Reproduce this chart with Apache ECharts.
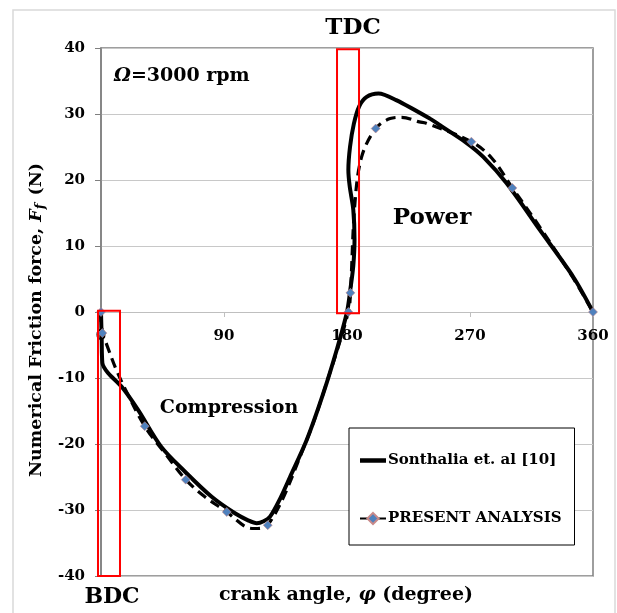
<!DOCTYPE html>
<html>
<head>
<meta charset="utf-8">
<script src="https://cdn.jsdelivr.net/npm/echarts@6/dist/echarts.min.js"></script>
<style>
html,body{margin:0;padding:0;background:#fff;}
#c{width:617px;height:613px;}
</style>
</head>
<body>
<div id="c"></div>
<script>
// ---- data ----
var xTicks = [0, 90, 180, 270, 360];
var yTicks = [-40, -30, -20, -10, 0, 10, 20, 30, 40];

// Sonthalia et. al [10] (solid curve)
var sonthaliaX = [0, 0.5, 1, 5, 15, 27, 44, 61.5, 81, 98, 108, 114, 119, 123.7, 131, 138.3, 150.5, 162.7, 172.4, 180, 182.5, 184.6, 185.5, 184.6, 182, 181, 182.2, 185, 189, 194.4, 203, 216, 240.7, 248, 267.6, 279.7, 296.8, 321.2, 345.6, 360];
var sonthaliaY = [0, -4, -7.7, -9.2, -11.3, -14.8, -20.4, -24.2, -28, -30.5, -31.6, -32, -31.7, -31, -28.3, -25, -19.4, -12.3, -5.8, 0, 3.5, 7, 11, 15.5, 19, 21.5, 25, 28.5, 31.2, 32.6, 33.1, 32.1, 29.3, 28.3, 25.6, 23.5, 19.5, 12.4, 5.3, 0];

// PRESENT ANALYSIS: computed points (markers)
var presentX = [0, 1, 32, 62, 92, 122, 181, 182.5, 201, 271, 301, 360];
var presentY = [0, -3.2, -17.3, -25.4, -30.3, -32.3, 0, 2.9, 27.8, 25.8, 18.8, 0];
// PRESENT ANALYSIS: dashed curve samples between the markers
var presentCurveX = [4.1, 10.7, 18, 46.8, 76, 105.4, 112, 150.5, 165, 185.8, 190.7, 211.5, 220, 233, 238, 286, 320, 345];
var presentCurveY = [-4.9, -8.5, -11.8, -21.4, -28, -32.5, -32.8, -19.4, -10.8, 16.5, 23.5, 29.3, 29.5, 28.8, 28.6, 23.3, 13.2, 5.3];

var seriesNames = ['Sonthalia et. al [10]', 'PRESENT ANALYSIS'];

// ---- build series data ----
var solidData = sonthaliaX.map(function (x, i) { return [x, sonthaliaY[i]]; });
var merged = [];
presentX.forEach(function (x, i) { merged.push({ x: x, y: presentY[i], m: true }); });
presentCurveX.forEach(function (x, i) { merged.push({ x: x, y: presentCurveY[i], m: false }); });
merged.sort(function (a, b) { return a.x - b.x; });
var dashData = merged.map(function (p) {
  return p.m ? { value: [p.x, p.y] } : { value: [p.x, p.y], symbolSize: 0 };
});

var SERIF = '"DejaVu Serif", "Liberation Serif", serif';
var chart = echarts.init(document.getElementById('c'), null, { renderer: 'canvas' });

var GRID_H = 613 - 48 - 37;
var LABEL_MARGIN = 17;

var option = {
  backgroundColor: '#ffffff',
  animation: false,
  grid: {
    left: 101, right: 24, top: 48, bottom: 37,
    show: true, borderColor: '#7f7f7f', borderWidth: 1.5, backgroundColor: 'transparent'
  },
  legend: {
    orient: 'vertical',
    left: 349, top: 428,
    padding: [25, 13, 19, 10],
    itemGap: 43,
    itemWidth: 26, itemHeight: 14,
    backgroundColor: '#fff',
    borderColor: '#000', borderWidth: 1,
    textStyle: { fontFamily: SERIF, fontWeight: 'bold', fontSize: 15, color: '#000', padding: [0, 0, 0, -3] },
    data: [
      { name: seriesNames[0], icon: 'path://M0,0 L26,0 L26,4.5 L0,4.5 Z', itemStyle: { color: '#000' } },
      { name: seriesNames[1] }
    ]
  },
  xAxis: {
    type: 'value', min: 0, max: 360, interval: 90,
    position: 'bottom',
    offset: -GRID_H / 2,
    axisLine: { onZero: false, lineStyle: { color: '#bfbfbf', width: 1 } },
    axisTick: { show: true, length: 5, lineStyle: { color: '#bfbfbf' } },
    axisLabel: { margin: LABEL_MARGIN, showMinLabel: true, showMaxLabel: true, hideOverlap: false,
      fontFamily: SERIF, fontWeight: 'bold', fontSize: 15, color: '#000',
      formatter: function (v) { return (v !== 0 && xTicks.indexOf(v) >= 0) ? String(v) : ''; } },
    splitLine: { show: false }
  },
  yAxis: {
    type: 'value', min: -40, max: 40, interval: 10,
    axisLine: { show: true, onZero: false, lineStyle: { color: '#7f7f7f', width: 1.5 } },
    axisTick: { show: true, length: 6, lineStyle: { color: '#7f7f7f' } },
    axisLabel: { margin: 16, fontFamily: SERIF, fontWeight: 'bold', fontSize: 15, color: '#000',
      formatter: function (v) { return yTicks.indexOf(v) >= 0 ? String(v) : ''; } },
    splitLine: { show: true, lineStyle: { color: '#c8c8c8', width: 1 } },
    name: '{a|Numerical Friction force, }{i|F}{s|f}{a| (N)}',
    nameLocation: 'middle',
    nameGap: 47,
    nameTextStyle: {
      padding: [0, 16, 0, 0],
      rich: {
        a: { fontFamily: SERIF, fontWeight: 'bold', fontSize: 17.5, color: '#000' },
        i: { fontFamily: SERIF, fontWeight: 'bold', fontStyle: 'italic', fontSize: 17.5, color: '#000' },
        s: { fontFamily: SERIF, fontWeight: 'bold', fontStyle: 'italic', fontSize: 13, color: '#000', verticalAlign: 'bottom', padding: [8, 2, 0, 0] }
      }
    }
  },
  series: [
    {
      name: seriesNames[0], type: 'line', data: solidData,
      smooth: 0.3, symbol: 'none', clip: false,
      lineStyle: { color: '#000', width: 4 }, itemStyle: { color: '#000' }, z: 2
    },
    {
      name: seriesNames[1], type: 'line', data: dashData,
      smooth: 0.35, symbol: 'diamond', symbolSize: 9, showSymbol: true, showAllSymbol: true, clip: false,
      lineStyle: { color: '#000', width: 3.2, type: [10, 6] },
      itemStyle: { color: '#4f81bd', borderColor: '#c98a8a', borderWidth: 0.6 }, z: 3
    }
  ]
};
chart.setOption(option);

// annotations (placed through the axes' own scales)
function px(x, y) { return chart.convertToPixel({ gridIndex: 0 }, [x, y]); }
var b1 = px(-2.2, 0.2), b2 = px(13.9, -40);
var t1 = px(172.7, 39.8), t2 = px(188.8, -0.2);
var origin = px(xTicks[0], 0);

chart.setOption({
  graphic: [
    { type: 'rect', silent: true, z: -10, shape: { x: 13, y: 10, width: 602, height: 620 },
      style: { fill: 'none', stroke: '#d9d9d9', lineWidth: 1.5 } },
    { type: 'text', silent: true, z: 0, x: origin[0], y: origin[1] + LABEL_MARGIN,
      style: { text: String(xTicks[0]), font: 'bold 15px ' + SERIF, fill: '#000', align: 'center', verticalAlign: 'top' } },
    { type: 'rect', silent: true, z: 100, shape: { x: b1[0], y: b1[1], width: b2[0] - b1[0], height: b2[1] - b1[1] },
      style: { fill: 'none', stroke: '#ff0000', lineWidth: 2 } },
    { type: 'rect', silent: true, z: 100, shape: { x: t1[0], y: t1[1], width: t2[0] - t1[0], height: t2[1] - t1[1] },
      style: { fill: 'none', stroke: '#ff0000', lineWidth: 2 } },
    { type: 'text', silent: true, z: 100, x: 353, y: 28,
      style: { text: 'TDC', font: 'bold 23px ' + SERIF, fill: '#000', align: 'center', verticalAlign: 'middle' } },
    { type: 'text', silent: true, z: 100, x: 112, y: 597,
      style: { text: 'BDC', font: 'bold 22px ' + SERIF, fill: '#000', align: 'center', verticalAlign: 'middle' } },
    { type: 'text', silent: true, z: 100, x: 432, y: 218,
      style: { text: 'Power', font: 'bold 23px ' + SERIF, fill: '#000', align: 'center', verticalAlign: 'middle' } },
    { type: 'text', silent: true, z: 100, x: 229, y: 408,
      style: { text: 'Compression', font: 'bold 19px ' + SERIF, fill: '#000', align: 'center', verticalAlign: 'middle' } },
    { type: 'text', silent: true, z: 100, x: 346, y: 595,
      style: { text: '{a|crank angle, }{i|φ}{a| (degree)}', fill: '#000', align: 'center', verticalAlign: 'middle',
        rich: { a: { font: 'bold 19px ' + SERIF, fill: '#000' }, i: { font: 'italic bold 19px ' + SERIF, fill: '#000' } } } },
    { type: 'text', silent: true, z: 100, x: 114, y: 76,
      style: { text: '{i|Ω}{a|=3000 rpm}', fill: '#000', align: 'left', verticalAlign: 'middle',
        rich: { a: { font: 'bold 19px ' + SERIF, fill: '#000' }, i: { font: 'italic bold 19px ' + SERIF, fill: '#000' } } } }
  ]
});
</script>
</body>
</html>
